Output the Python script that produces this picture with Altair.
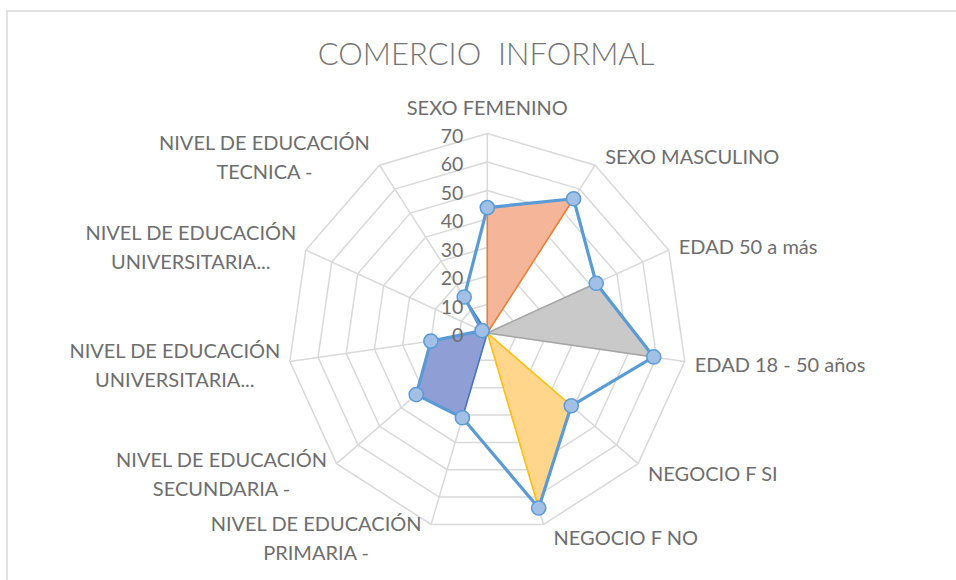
import altair as alt
import numpy as np
import pandas as pd

# ---------------- data ----------------
categories = [
    "SEXO FEMENINO",
    "SEXO MASCULINO",
    "EDAD 50 a más",
    "EDAD 18 - 50 años",
    "NEGOCIO F SI",
    "NEGOCIO F NO",
    "NIVEL DE EDUCACIÓN\nPRIMARIA -",
    "NIVEL DE EDUCACIÓN\nSECUNDARIA -",
    "NIVEL DE EDUCACIÓN\nUNIVERSITARIA...",
    "NIVEL DE EDUCACIÓN\nUNIVERSITARIA...",
    "NIVEL DE EDUCACIÓN\nTECNICA -",
]
total = [44, 56, 42, 59, 39, 64, 31, 33, 20, 2, 15]
sexo = [44, 56, 0, 0, 0, 0, 0, 0, 0, 0, 0]
edad = [0, 0, 42, 59, 0, 0, 0, 0, 0, 0, 0]
negocio = [0, 0, 0, 0, 39, 64, 0, 0, 0, 0, 0]
educacion = [0, 0, 0, 0, 0, 0, 31, 33, 20, 2, 15]
ticks = [0, 10, 20, 30, 40, 50, 60, 70]
title_text = "COMERCIO\u00a0 INFORMAL"

# ---------------- geometry helpers ----------------
N = len(categories)
K = 2.85                 # pixels per unit
CX, CY = 487.3, 333.0    # centre in pixels
W, H = 956, 580
RMAX = ticks[-1]
XDOM = [-CX / K, (W - CX) / K]
YDOM = [-(H - CY) / K, CY / K]

ang = 2 * np.pi * np.arange(N) / N
S, C = np.sin(ang), np.cos(ang)


def polar_rows(values, closed=True):
    idx = list(range(N)) + ([0] if closed else [])
    rows = []
    for k, i in enumerate(idx):
        rows.append({"o": k, "x": values[i] * S[i], "y": values[i] * C[i]})
    return pd.DataFrame(rows)


xs = alt.Scale(domain=XDOM, nice=False, zero=False)
ys = alt.Scale(domain=YDOM, nice=False, zero=False)


def X(f="x"):
    return alt.X(f"{f}:Q", scale=xs, axis=None)


def Y(f="y"):
    return alt.Y(f"{f}:Q", scale=ys, axis=None)


GRID = "#D9D9D9"
TXT = "#6E6E6E"
FONT = "Lato"
LFS = 20

# ---------------- layers ----------------
border = alt.Chart(pd.DataFrame({"a": [0]})).mark_rect(
    filled=False, stroke=GRID, strokeWidth=1.5
).encode(x=alt.value(7), y=alt.value(11), x2=alt.value(980), y2=alt.value(620))

ring_frames = []
for t in ticks[1:]:
    df = polar_rows([t] * N)
    df["tick"] = t
    ring_frames.append(df)
rings = alt.Chart(pd.concat(ring_frames)).mark_line(
    stroke=GRID, strokeWidth=1.5
).encode(x=X(), y=Y(), detail="tick:N", order="o:Q")

spoke_df = pd.DataFrame({"x": 0.0, "y": 0.0, "x2": RMAX * S, "y2": RMAX * C})
spokes = alt.Chart(spoke_df).mark_rule(stroke=GRID, strokeWidth=1.5).encode(
    x=X(), y=Y(), x2="x2:Q", y2="y2:Q"
)

series_styles = [
    (sexo, "#F4B599", "#ED7D31"),
    (edad, "#C9C9C9", "#A5A5A5"),
    (negocio, "#FFD68C", "#FFC000"),
    (educacion, "#8F9FD6", "#4472C4"),
]
fills = []
for vals, fc, sc in series_styles:
    fills.append(
        alt.Chart(polar_rows(vals)).mark_line(
            fill=fc, stroke=sc, strokeWidth=1.5, strokeJoin="round"
        ).encode(x=X(), y=Y(), order="o:Q")
    )

tot_df = polar_rows(total)
line = alt.Chart(tot_df).mark_line(
    stroke="#5B9BD5", strokeWidth=3.2, strokeJoin="round"
).encode(x=X(), y=Y(), order="o:Q")

pts = alt.Chart(polar_rows(total, closed=False)).mark_point(
    shape="circle", filled=True, size=200, fill="#A2BFE6", stroke="#5B9BD5",
    strokeWidth=1.5, opacity=1
).encode(x=X(), y=Y())

tick_df = pd.DataFrame({"x": 0.0, "y": [float(t) for t in ticks], "lab": [str(t) for t in ticks]})
tick_text = alt.Chart(tick_df).mark_text(
    align="right", baseline="middle", dx=-24, dy=3, font=FONT, fontSize=19.5, color=TXT
).encode(x=X(), y=Y(), text="lab:N")

lab_rows = []
for i, c in enumerate(categories):
    s, co = S[i], C[i]
    side = "top" if abs(s) < 0.1 else ("right" if s > 0 else "left")
    lx = RMAX * s + (10 / K) * (1 if s > 0 else -1 if s < 0 else 0)
    ly = RMAX * co - (3 - 12 * co) / K
    lab_rows.append({"x": lx, "y": ly, "lab": c, "side": side})
lab_df = pd.DataFrame(lab_rows)

lab_top = alt.Chart(lab_df).transform_filter("datum.side == 'top'").mark_text(
    align="center", baseline="middle", dy=-16, font=FONT, fontSize=LFS, color=TXT, lineBreak="\n"
).encode(x=X(), y=Y(), text="lab:N")
lab_right = alt.Chart(lab_df).transform_filter("datum.side == 'right'").mark_text(
    align="left", baseline="middle", font=FONT, fontSize=LFS, color=TXT, lineBreak="\n"
).encode(x=X(), y=Y(), text="lab:N")
lab_left = alt.Chart(lab_df).transform_filter("datum.side == 'left'").mark_text(
    align="center", baseline="middle", dx=-105, dy=-14, font=FONT, fontSize=LFS, color=TXT,
    lineBreak="\n", lineHeight=29
).encode(x=X(), y=Y(), text="lab:N")

title = alt.Chart(pd.DataFrame({"t": [title_text]})).mark_text(
    align="center", baseline="middle", font=FONT, fontSize=31, fontWeight=300, color="#757575"
).encode(x=alt.value(486), y=alt.value(56), text="t:N")

chart = alt.layer(
    border, rings, spokes, *fills, line, pts, tick_text, lab_top, lab_right, lab_left, title
).properties(
    width=W, height=H, padding=0, autosize=alt.AutoSizeParams(type="none")
).configure_view(stroke=None)

chart.save("out.html", embed_options={"renderer": "svg", "actions": False})
